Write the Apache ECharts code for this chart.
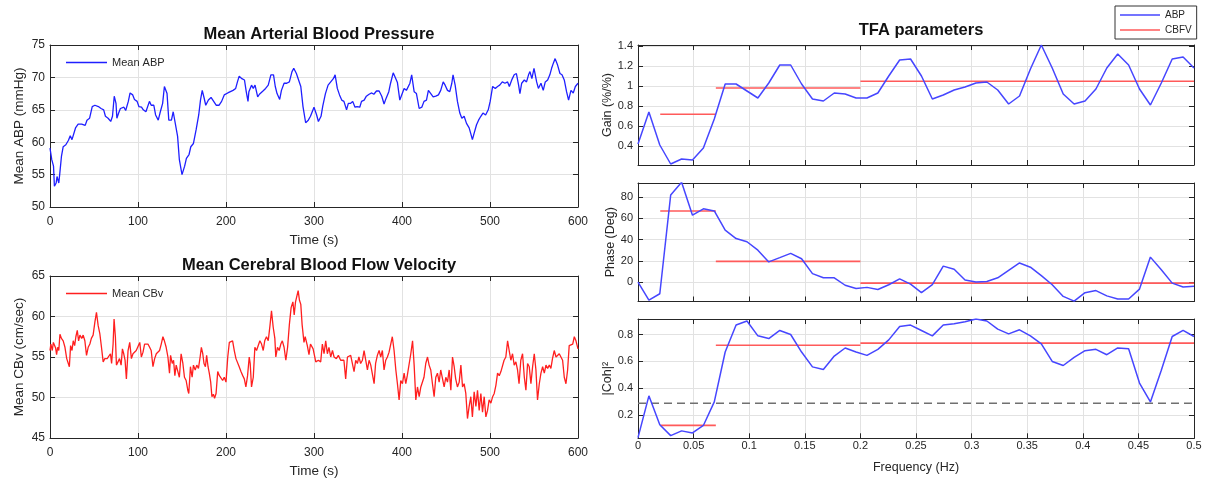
<!DOCTYPE html>
<html><head><meta charset="utf-8">
<script src="https://cdn.jsdelivr.net/npm/echarts@6/dist/echarts.min.js"></script>
<style>html,body{margin:0;padding:0;background:#fff}#c{width:1211px;height:479px}</style>
</head><body><div id="c"></div>
<script>
// ---------- data ----------
const abpTime = [0,2,4,5,7,8,10,11,13,15,18,21,23,25,27,29,32,36,40,42,45,48,51,55,58,61,63,66,69,71,73,75,76,78,80,82,84,86,89,91,94,96,99,101,104,106,109,111,113,115,118,120,123,125,128,130,133,135,138,140,142,145,147,150,153,155,158,160,163,166,169,171,173,175,177,180,183,186,189,192,195,198,202,205,208,211,213,215,218,221,223,225,226,229,231,233,236,238,242,245,248,251,254,256,258,261,263,266,269,272,275,277,280,282,285,287.5,290.5,293.5,296,298,300,303,305,308,310,313,316,319,322,324,326.5,329,331.5,334,337,339,341.7,344,346.6,349,352,354,357,359.5,362.6,365.6,368,371,374,377,379.6,382,385,387,390,392,394.8,397.5,399.7,402.4,405,407,409,411,413.8,416.4,419.5,422.5,425,427.8,430,432.7,435.4,438.4,441.4,444,446.8,449,451.7,454.3,456.6,458,460.4,463,465.7,468,470.6,473.3,476.3,478,480,482,484.7,487,489.6,492,495,498,500.2,503,506,508.6,511,514,517,520,522,525,527.5,530,532.5,534,536,539,541.5,543.8,545.4,547.6,550,553,555,557.9,560.5,562.8,565.5,568,570,572,574,576.8,579.5,581.8,584.4,587,589.3,592,594.6,597,600];
const abpValue = [59.1,57.3,56.3,53.2,53.7,54.7,53.7,55,57.8,59.3,59.6,60.3,61,60.4,60.3,62.2,62.8,62.8,62.6,63.4,63.7,65.5,65.7,65.5,65.2,65,64,63.7,63.2,64,67.1,66,63.7,64.5,65.2,65,65.4,64.9,66.3,67.6,67.3,66.6,66.3,65.5,65.4,65,64.7,65,66.3,65.7,65.7,64.2,63.4,64.5,66,68.6,67.5,63.4,63.4,64.7,64.7,60.9,57.3,55,56.3,57.5,58.1,59.3,59.8,61.9,64.2,66.5,68,66.9,65.7,66.5,66.9,66.3,65.7,65.7,66.3,67.3,67.6,67.8,68,68.3,69.3,70.2,69.8,69.6,67.8,66.3,67.8,68.8,68.3,68.8,67,67.4,67.9,68.3,68.8,70.4,70.4,68.6,67.5,66.6,68,69.1,69.1,69.3,70.9,71.4,70.6,70.6,68.6,65.5,63,63.4,64,63.8,65.4,64.2,63.2,64,65.6,67.5,68.8,69.3,69.8,70.4,68.3,67.3,66.5,66.3,65,66,66,66.3,65.4,65.5,65.4,66.3,66.5,67.1,67.4,67.6,67.4,67.9,67.9,67.1,65.9,66.8,67.8,69.1,70.7,70.1,69.2,66.5,66.8,68.3,68,67.8,69.1,70.4,67.8,67.5,65.2,65.4,66.3,66.5,68,67.5,67,67.1,67.3,68,69.3,68.8,68,67.8,69.1,70.4,68.8,66.3,64.5,63.7,64,62.9,62.2,61.4,60.4,61.4,62.7,63.4,64,64.5,64.2,65,66.3,68.6,68.3,68.6,68.8,69.3,69.1,69.3,68.6,69.7,70.4,70.6,68.8,67.5,69.1,69.6,69.3,70.4,70.9,69.8,71.4,69.3,68.3,69.1,68,69.3,69.6,70.4,71.4,72.2,72.9,71.9,70.6,70.4,69.6,67.8,66.5,68,67.6,68.6,69.1];

const cbvTime = [0,1,2.6,3.8,5,6.4,7.5,8.7,10,11.3,13,15,17,19,20.4,22,23.4,25,26.4,28,29.4,31,32.5,34,36,37.7,39.6,41.5,43.4,45.3,47,49,51,52.8,54.7,56.6,58.5,60.4,62.3,65,67,68.7,70,71.7,72.8,74.3,75.5,77.4,79,80.8,82.3,83.8,85.3,86.8,88.7,90.6,92.5,94.3,96.2,98,100,102,103.8,105.7,107.5,109.4,111.3,113.2,115,117,118.9,120.8,122.6,124.5,126.4,128.3,130,132,134,135.8,137,138.9,140.4,141.9,143.4,145.3,147,149,151,152.8,154.7,156.6,157.7,159.6,161.5,163,165,166.8,168.7,170.6,172,173.6,175,176.6,178,179.6,181,182.6,184,185.7,187,188.7,190.6,192.5,194.3,196.2,198,200,202,203.8,205.7,207.5,209.4,211.3,213.2,215,217,219,220.8,222.6,224.5,226.4,227.5,229,231,232.8,234.7,236.6,238.5,240.4,242.3,244,246,248,250,251.7,253.6,255.5,256.6,258.5,260.4,262.3,264,266,268,270,272,274,276,277.5,279,282,283.5,285,286.5,288.6,290,292.4,294.3,296,299,302,305,307.6,309.5,311.4,313.3,315.2,317,319,321,322.8,325.4,327.7,330.3,332,334,336,338,339.8,341.7,343.6,345.5,347.4,349.3,351,353,355,356.9,358.8,360.7,362.6,364.5,366.4,368.3,370,372,374,375.8,377.7,379.6,381.5,383.4,385.3,387.2,389,391,393,394.8,396.7,398.6,400.5,402.4,404.3,406,408,410,412,413.8,415.7,417.6,419.5,421.4,423.2,425,427,429,430.8,432.7,434.6,436.5,438.4,440.3,442.2,444,446,447.9,449.8,451.7,453.6,455.5,457.4,459.3,461,463,465,466.9,468.8,470.6,472.5,474.4,476.3,478.2,480,482,484,485.8,487.7,489.6,491.5,493.4,495.3,497.2,499,501,503,504.8,506.7,508.6,510.5,512.4,514.3,516,518,520,521.8,523.7,525.6,527.5,529.4,531.3,533,535,537,539,540.8,542.7,544.6,546.5,548.4,550.3,552.2,554,556,557.9,559.8,561.7,563.6,565.5,567.4,569.2,571,573,575,576.8,578.7,580.6,582.5,584.4,586.3,588.2,590,592,594,595.8,597.7,600];
const cbvValue = [55.8,56.6,55.8,56.8,57,56.1,55.3,56.2,55.8,57.8,57.3,57,56.2,54.8,54.6,53.8,56.4,55.8,57,56.4,57.5,58.3,57,57.7,57.3,57.7,57,55.2,56.2,56.6,57.3,57.7,59.3,60.5,58.9,57.9,56.2,54.4,54.8,54.8,54.6,55.4,54.2,56.6,59.7,57.5,54,54.2,54.8,54,56,55.4,54.6,52.3,55.8,56.8,54.8,55.4,55.2,55.8,56,56.8,55,55.6,56.6,56.4,56.6,56.2,55.8,53.8,54.8,55.4,55.2,55.8,56.6,57.5,57,56.2,55,53,55.2,54.2,54.6,52.7,54,53.2,52.5,55.4,54.2,52.5,52.1,50.9,50.5,53.8,52.5,54,53.4,54,53.6,55,56.2,55.4,54.2,53.8,55.2,53.8,53,51.9,50.1,50.4,49.9,50.5,53.2,52.7,52.5,52.1,52.5,51.9,55,56.8,56.6,57,55.8,54.8,55,53.8,53.2,52.7,52.3,51.3,52.7,55,54.2,51.3,52.5,56.2,55.8,56,57,56.6,55.8,57,57.5,57,58.9,60.7,58.7,57.3,55,56.2,55.8,56.6,57,56.2,54.6,56.2,59,61.1,61.8,60.2,61.8,63.2,62,61.5,59,56.8,57.5,56.4,55.3,56.6,56,54.4,54.6,54.4,56.6,55.4,57,55.4,56.2,55,55.8,55,54.8,55.2,54.6,54.8,54.6,52.3,55,54.8,55.2,55,53.2,54.6,54.2,55,54.2,54.6,55.8,56,53.4,54.6,54,53.8,51.7,54.2,55.2,55.8,55,55.8,53.4,54.6,55,55.6,55.8,57.5,55.8,53.4,51.7,49.7,52.1,51.7,53,51.7,52.7,52.5,55.4,57,54,49.7,51.3,50.1,51.3,51.5,52.5,54.2,55,54,53.4,51.7,50.1,52.5,53,51.9,53.4,53.6,51.3,52.5,51.9,53.4,50.9,55,53.8,52.3,51.3,51.9,54,51.3,51.7,50.5,47.4,48.9,50.1,47.6,50.7,48.9,50.9,48.4,50.5,48.2,50.1,47.6,48.4,49.7,49.3,50.1,50.5,51.5,53,52.7,53.2,53,54.6,55,57,55.8,54.6,55.4,54,54.4,53.4,51.7,54.6,55.4,52.5,50.9,54.2,53.8,51.7,53.8,55.4,53.4,49.7,51.7,53,53.8,53,54,53.6,54,53.6,54.8,55.8,55,55.2,55.4,55.2,54.6,52.5,51.7,53.4,56.4,56.2,56.6,57.5,57,56];

const freqHz = [0,0.0098,0.0196,0.0294,0.0392,0.0490,0.0588,0.0686,0.0784,0.0882,0.0980,0.1078,0.1176,0.1275,0.1373,0.1471,0.1569,0.1667,0.1765,0.1863,0.1961,0.2059,0.2157,0.2255,0.2353,0.2451,0.2549,0.2647,0.2745,0.2843,0.2941,0.3039,0.3137,0.3235,0.3333,0.3431,0.3529,0.3627,0.3725,0.3824,0.3922,0.4020,0.4118,0.4216,0.4314,0.4412,0.4510,0.4608,0.4706,0.4804,0.4902,0.5];
const gainABP = [0.42,0.74,0.41,0.22,0.27,0.26,0.38,0.67,1.02,1.02,0.95,0.88,1.03,1.21,1.21,1.02,0.87,0.85,0.93,0.92,0.88,0.88,0.93,1.10,1.26,1.27,1.10,0.87,0.91,0.96,0.99,1.03,1.04,0.96,0.82,0.90,1.17,1.41,1.18,0.92,0.82,0.85,0.97,1.18,1.32,1.21,0.97,0.81,1.03,1.27,1.29,1.18];
const phaseABP = [0,-17,-11,82,94,63,69,67,49,41,38,30,19,23,27,22,8,4,4,-3,-6,-5,-7,-2.5,3,-2,-10,-2.5,15,12,2,0,0.6,4,11,18,14,6,-2.5,-13.5,-18,-10,-8,-13,-16,-16,-6.6,23.5,11.6,-1,-4.7,-4];
const cohABP = [0.035,0.345,0.13,0.05,0.085,0.07,0.125,0.30,0.67,0.87,0.90,0.79,0.77,0.83,0.80,0.67,0.56,0.54,0.64,0.70,0.67,0.645,0.69,0.76,0.86,0.87,0.83,0.79,0.87,0.88,0.895,0.915,0.90,0.84,0.805,0.835,0.79,0.73,0.60,0.57,0.63,0.68,0.69,0.65,0.70,0.695,0.44,0.30,0.535,0.785,0.83,0.785];

const bandEdges = [0.02, 0.07, 0.2, 0.5];
const gainCBFV = [0.717, 0.98, 1.047];
const phaseCBFV = [66.9, 19.5, -1];
const cohCBFV = [0.126, 0.72, 0.736];
const cohThreshold = 0.29;

const gainTicks = [0.4, 0.6, 0.8, 1, 1.2, 1.4];
const phaseTicks = [0, 20, 40, 60, 80];
const cohTicks = [0.2, 0.4, 0.6, 0.8];

// ---------- styling ----------
const FONT = '"Liberation Sans", Arial, Helvetica, sans-serif';
const TXT = '#262626';
const AX = '#262626';
const GRIDC = '#e2e2e2';

function xPair(g, min, max, interval, o) {
  return [
    { gridIndex: g, type: 'value', position: 'bottom', min, max, interval,
      axisLine: { show: true, onZero: false, lineStyle: { color: AX, width: 1 } },
      axisTick: { show: true, inside: true, length: 5, lineStyle: { color: AX } },
      axisLabel: { show: o.label, margin: o.margin, color: TXT, fontSize: o.fs, fontFamily: FONT },
      splitLine: { show: true, lineStyle: { color: GRIDC, width: 1 } },
      name: o.name || '', nameLocation: 'middle', nameGap: o.nameGap,
      nameTextStyle: { color: TXT, fontSize: o.nfs, fontFamily: FONT } },
    { gridIndex: g, type: 'value', position: 'top', min, max, interval,
      axisLine: { show: true, onZero: false, lineStyle: { color: AX, width: 1 } },
      axisTick: { show: true, inside: true, length: 5, lineStyle: { color: AX } },
      axisLabel: { show: false }, splitLine: { show: false } }
  ];
}
function yPair(g, min, max, interval, o) {
  const tick = { show: true, inside: true, length: 5, lineStyle: { color: AX } };
  const lab = { show: true, margin: 5, color: TXT, fontSize: o.fs, fontFamily: FONT };
  if (o.custom) { tick.customValues = o.custom; lab.customValues = o.custom; }
  const a = { gridIndex: g, type: 'value', position: 'left', min, max,
      axisLine: { show: true, onZero: false, lineStyle: { color: AX, width: 1 } },
      axisTick: tick, axisLabel: lab,
      splitLine: { show: true, lineStyle: { color: GRIDC, width: 1 } },
      name: o.name, nameLocation: 'middle', nameGap: o.nameGap,
      nameTextStyle: { color: TXT, fontSize: o.nfs, fontFamily: FONT } };
  const b = { gridIndex: g, type: 'value', position: 'right', min, max,
      axisLine: { show: true, onZero: false, lineStyle: { color: AX, width: 1 } },
      axisTick: Object.assign({}, tick), axisLabel: { show: false }, splitLine: { show: false } };
  if (interval) { a.interval = interval; b.interval = interval; }
  return [a, b];
}

const xAxes = [].concat(
  xPair(0, 0, 600, 100, { label: true, margin: 9, fs: 12, name: 'Time (s)', nameGap: 26, nfs: 13.5 }),
  xPair(1, 0, 600, 100, { label: true, margin: 9, fs: 12, name: 'Time (s)', nameGap: 26, nfs: 13.5 }),
  xPair(2, 0, 0.5, 0.05, { label: false }),
  xPair(3, 0, 0.5, 0.05, { label: false }),
  xPair(4, 0, 0.5, 0.05, { label: true, margin: 2, fs: 11, name: 'Frequency (Hz)', nameGap: 23, nfs: 12.5 })
);
const yAxes = [].concat(
  yPair(0, 50, 75, 5, { fs: 12, name: 'Mean ABP (mmHg)', nameGap: 24, nfs: 13.5 }),
  yPair(1, 45, 65, 5, { fs: 12, name: 'Mean CBv (cm/sec)', nameGap: 24, nfs: 13.5 }),
  yPair(2, 0.21, 1.41, null, { fs: 11, custom: gainTicks, name: 'Gain (%/%)', nameGap: 23, nfs: 12.5 }),
  yPair(3, -18.3, 93.3, null, { fs: 11, custom: phaseTicks, name: 'Phase (Deg)', nameGap: 20, nfs: 12.5 }),
  yPair(4, 0.03, 0.915, null, { fs: 11, custom: cohTicks, name: '|Coh|²', nameGap: 22, nfs: 12.5 })
);

const BLUE = '#4646ff';
const RED = '#ff5a5a';
const series = [];
series.push({ name: 'Mean ABP', type: 'line', xAxisIndex: 0, symbol: 'none', color: '#1f1fff',
  lineStyle: { width: 1.3, color: '#1f1fff' }, data: abpTime.map((t, i) => [t, abpValue[i]]) });
series.push({ name: 'Mean CBv', type: 'line', xAxisIndex: 2, symbol: 'none', color: '#ff1f1f',
  lineStyle: { width: 1.3, color: '#ff1f1f' }, data: cbvTime.map((t, i) => [t, cbvValue[i]]) });

const panels = [[gainABP, gainCBFV], [phaseABP, phaseCBFV], [cohABP, cohCBFV]];
panels.forEach((p, j) => {
  const ax = 4 + 2 * j;
  if (j === 2) {
    series.push({ name: 'threshold', type: 'line', xAxisIndex: ax, symbol: 'none', silent: true,
      lineStyle: { width: 1.6, color: '#707070', type: [8, 5] },
      data: [[0, cohThreshold], [0.5, cohThreshold]] });
  }
  for (let b = 0; b < 3; b++) {
    series.push({ name: 'CBFV', type: 'line', xAxisIndex: ax, symbol: 'none', color: RED,
      lineStyle: { width: 1.6, color: RED },
      data: [[bandEdges[b], p[1][b]], [bandEdges[b + 1], p[1][b]]] });
  }
  series.push({ name: 'ABP', type: 'line', xAxisIndex: ax, symbol: 'none', color: BLUE,
    lineStyle: { width: 1.5, color: BLUE }, data: freqHz.map((f, i) => [f, p[0][i]]) });
});
series.forEach(s => { s.yAxisIndex = s.xAxisIndex; });

const titleStyle = { color: '#111', fontSize: 16.5, fontWeight: 'bold', fontFamily: FONT };
const legText = { color: TXT, fontSize: 11, fontFamily: FONT };
const option = {
  animation: false,
  backgroundColor: '#fff',
  title: [
    { text: 'Mean Arterial Blood Pressure', left: 314, top: 21, textAlign: 'center', textStyle: titleStyle },
    { text: 'Mean Cerebral Blood Flow Velocity', left: 314, top: 252, textAlign: 'center', textStyle: titleStyle },
    { text: 'TFA parameters', left: 916, top: 17, textAlign: 'center', textStyle: titleStyle }
  ],
  legend: [
    { data: ['Mean ABP'], left: 66, top: 57, icon: 'rect', itemWidth: 41, itemHeight: 1.5, itemGap: 4, padding: 0,
      textStyle: legText },
    { data: ['Mean CBv'], left: 66, top: 288, icon: 'rect', itemWidth: 41, itemHeight: 1.5, itemGap: 4, padding: 0,
      textStyle: legText },
    { data: ['ABP', 'CBFV'], orient: 'vertical', left: 1115, top: 6, icon: 'rect', itemWidth: 40, itemHeight: 1.5, itemGap: 3,
      padding: [3, 5, 3, 5], borderColor: '#333', borderWidth: 1, backgroundColor: '#fff',
      textStyle: { color: TXT, fontSize: 10, fontFamily: FONT, lineHeight: 12 } }
  ],
  grid: [
    { left: 50, top: 45, width: 528, height: 162 },
    { left: 50, top: 276, width: 528, height: 162 },
    { left: 638, top: 45, width: 556, height: 120 },
    { left: 638, top: 183, width: 556, height: 118.5 },
    { left: 638, top: 319, width: 556, height: 119.3 }
  ],
  xAxis: xAxes,
  yAxis: yAxes,
  series: series
};
const chart = echarts.init(document.getElementById('c'), null, { renderer: 'canvas' });
chart.setOption(option);
</script></body></html>
